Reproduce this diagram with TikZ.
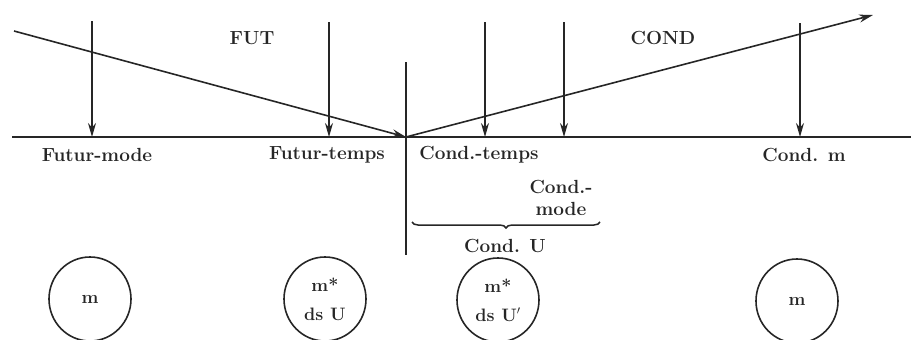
\documentclass[tikz,border=0pt]{standalone}
\usetikzlibrary{arrows.meta,decorations.pathreplacing,shapes.geometric}
\begin{document}
\begin{tikzpicture}[x=1pt,y=-1pt,
  ln/.style={line width=1.6pt,color=black!85},
  arr/.style={ln,-{Stealth[length=14pt,width=8pt]}},
  lbl/.style={font=\fontsize{19}{22}\selectfont\bfseries,inner sep=0pt,text=black!85},
  circ/.style={draw=black!85,line width=1.6pt,ellipse,minimum width=82pt,minimum height=84pt,inner sep=0pt,align=center,font=\fontsize{18}{29}\selectfont\bfseries,text=black!85}]
\useasboundingbox (0,0) rectangle (911,340);
% baseline and divider
\coordinate (hl) at (12,137);
\coordinate (hr) at (911,137);
\draw[ln] (hl) -- (hr);
\coordinate (vt) at (406,62);
\coordinate (vb) at (406,255);
\draw[ln] (vt) -- (vb);
\coordinate (v) at (406,137);
% FUT and COND arrows
\coordinate (futs) at (14,31);
\draw[arr] (futs) -- (v);
\coordinate (conde) at (873,15);
\draw[arr] (v) -- (conde);
% vertical arrows
\foreach \n/\x/\t in {a/92/21,b/329/22,c/485/22,d/564/22,e/800/23}{
  \coordinate (\n t) at (\x,\t);
  \coordinate (\n b) at (\x,137);
  \draw[arr] (\n t) -- (\n b);
}
% labels
\node[lbl] (fut) at (252,38) {FUT};
\node[lbl] (cond) at (663,38) {COND};
\node[lbl] (fm) at (97,155) {Futur-mode};
\node[lbl] (ft) at (327,155) {Futur-temps};
\node[lbl] (ct) at (479,155) {Cond.-temps};
\node[lbl] (cm) at (804,155) {Cond. m};
\node[lbl,align=center] (cmo) at (561,198) {Cond.-\\mode};
\coordinate (bl) at (412,222);
\coordinate (br) at (600,222);
\draw[ln,line width=1.5pt,decorate,decoration={brace,mirror,amplitude=6pt}] (bl) -- (br);
\node[lbl] (cu) at (505,246) {Cond. U};
% circles
\node[circ] (c1) at (90,299) {m};
\node[circ] (c2) at (325,299) {m*\\ds U};
\node[circ] (c3) at (498,300) {m*\\ds U$'$};
\node[circ] (c4) at (797,301) {m};
\end{tikzpicture}
\end{document}
